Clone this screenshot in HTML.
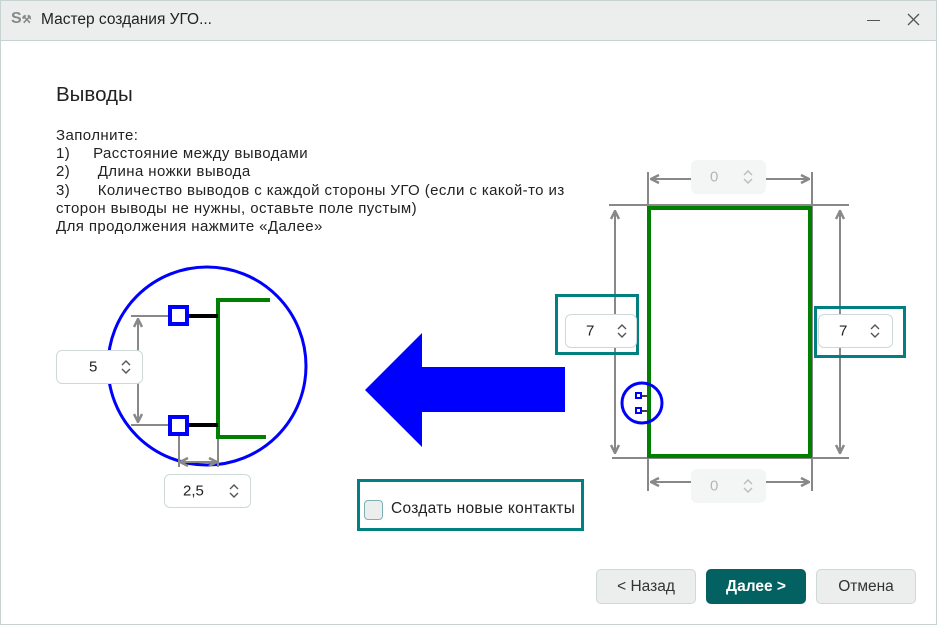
<!DOCTYPE html>
<html><head><meta charset="utf-8"><style>
body{margin:0;width:937px;height:625px;overflow:hidden;background:#fff;font-family:"Liberation Sans","Noto Sans CJK SC",sans-serif;}
.t{position:absolute;color:#222;white-space:nowrap}
.sp{position:absolute;background:#fff;border:1px solid #cfd8d8;border-radius:6px;box-sizing:border-box;font-size:15px;color:#222}
.sp .v{position:absolute;top:50%;transform:translateY(-50%)}
.sp svg{position:absolute;top:50%;margin-top:-8px}
.dis{background:#f4f6f6;border-color:#f4f6f6;color:#b0b8b8}
.btn{position:absolute;top:569px;width:100px;height:35px;border:1px solid #cfd8d8;border-radius:5px;background:#eceeee;box-sizing:border-box;font-size:15.5px;text-align:center;line-height:33px;color:#333}
</style></head><body>
<div style="position:absolute;left:0;top:0;width:937px;height:40px;background:#eceeee;border-bottom:1px solid #c8d2d2"></div>
<div style="position:absolute;left:0;top:0;width:935px;height:623px;border:1px solid #c8d2d2"></div>
<div class="t" style="left:11px;top:10px;font-size:16px;color:#888;font-weight:bold">S<span style="font-size:11px">⚒</span></div>
<div class="t" style="left:41px;top:11px;font-size:15.5px">Мастер создания УГО...</div>
<div style="position:absolute;left:867px;top:20px;width:13px;height:1px;background:#555"></div>
<svg style="position:absolute;left:907px;top:13px" width="13" height="13"><path d="M1,1 L12,12 M12,1 L1,12" stroke="#555" stroke-width="1.3"/></svg>
<div class="t" style="left:56px;top:83px;font-size:20.5px">Выводы</div>
<div class="t" style="left:56px;top:127px;font-size:15px;line-height:18.2px;letter-spacing:0.42px">Заполните:<br>1)&nbsp;&nbsp;&nbsp;&nbsp; Расстояние между выводами<br>2)&nbsp;&nbsp;&nbsp;&nbsp;&nbsp; Длина ножки вывода<br>3)&nbsp;&nbsp;&nbsp;&nbsp;&nbsp; Количество выводов с каждой стороны УГО (если с какой-то из<br>сторон выводы не нужны, оставьте поле пустым)<br>Для продолжения нажмите «Далее»</div>
<svg style="position:absolute;left:0;top:0" width="937" height="625">
<defs><marker id="a" viewBox="0 0 10 10" refX="8" refY="5" markerWidth="5" markerHeight="5" orient="auto-start-reverse"><path d="M1,1 L9,5 L1,9" fill="none" stroke="#888" stroke-width="2.5"/></marker></defs>
<circle cx="207" cy="366" r="99" fill="none" stroke="#0000ff" stroke-width="3"/>
<g stroke="#888" stroke-width="2" fill="none">
<line x1="131" y1="316" x2="168" y2="316"/><line x1="131" y1="425" x2="168" y2="425"/>
<line x1="138" y1="320" x2="138" y2="421" marker-start="url(#a)" marker-end="url(#a)"/>
<line x1="179" y1="427" x2="179" y2="467"/><line x1="218" y1="437" x2="218" y2="467"/>
<line x1="181" y1="462" x2="216" y2="462" marker-start="url(#a)" marker-end="url(#a)"/>
</g>
<path d="M270,300 H218 V437 H266" fill="none" stroke="#008000" stroke-width="4"/>
<line x1="189" y1="316" x2="218" y2="316" stroke="#000" stroke-width="4"/>
<line x1="189" y1="425" x2="218" y2="425" stroke="#000" stroke-width="4"/>
<rect x="170" y="307" width="17" height="17" fill="#fff" stroke="#0000ff" stroke-width="4"/>
<rect x="170" y="417" width="17" height="17" fill="#fff" stroke="#0000ff" stroke-width="4"/>
<polygon points="365,390 422,333 422,367 565,367 565,412 422,412 422,447" fill="#0000ff"/>
<g stroke="#888" stroke-width="2" fill="none">
<line x1="609" y1="205" x2="849" y2="205"/><line x1="612" y1="458" x2="849" y2="458"/>
<line x1="648" y1="172" x2="648" y2="491"/><line x1="812" y1="172" x2="812" y2="491"/>
<line x1="615" y1="212" x2="615" y2="452" marker-start="url(#a)" marker-end="url(#a)"/>
<line x1="840" y1="212" x2="840" y2="452" marker-start="url(#a)" marker-end="url(#a)"/>
<line x1="652" y1="179" x2="808" y2="179" marker-start="url(#a)" marker-end="url(#a)"/>
<line x1="652" y1="482" x2="808" y2="482" marker-start="url(#a)" marker-end="url(#a)"/>
</g>
<rect x="649" y="208" width="161" height="248" fill="none" stroke="#008000" stroke-width="4"/>
<circle cx="642" cy="403" r="20" fill="none" stroke="#0000ff" stroke-width="3"/>
<line x1="641" y1="396" x2="647" y2="396" stroke="#000" stroke-width="1.5"/>
<line x1="641" y1="411" x2="647" y2="411" stroke="#000" stroke-width="1.5"/>
<rect x="636" y="393" width="5" height="5" fill="#fff" stroke="#0000ff" stroke-width="2"/>
<rect x="636" y="408" width="5" height="5" fill="#fff" stroke="#0000ff" stroke-width="2"/>
<rect x="556.5" y="295.5" width="81" height="58" fill="none" stroke="#008080" stroke-width="3"/>
<rect x="815.5" y="307.5" width="89" height="49" fill="none" stroke="#008080" stroke-width="3"/>
<rect x="358.5" y="480.5" width="224" height="49" fill="none" stroke="#008080" stroke-width="3"/>
</svg>
<div class="sp" style="left:56px;top:350px;width:87px;height:34px"><span class="v" style="left:32px">5</span><svg style="left:63px" width="12" height="16"><path d="M2,6 L6,2 L10,6 M2,10 L6,14 L10,10" fill="none" stroke="#555" stroke-width="1.4"/></svg></div>
<div class="sp" style="left:164px;top:474px;width:87px;height:34px"><span class="v" style="left:18px">2,5</span><svg style="left:63px" width="12" height="16"><path d="M2,6 L6,2 L10,6 M2,10 L6,14 L10,10" fill="none" stroke="#555" stroke-width="1.4"/></svg></div>
<div class="sp dis" style="left:691px;top:160px;width:75px;height:34px"><span class="v" style="left:18px">0</span><svg style="left:50px" width="12" height="16"><path d="M2,6 L6,2 L10,6 M2,10 L6,14 L10,10" fill="none" stroke="#bbb" stroke-width="1.4"/></svg></div>
<div class="sp dis" style="left:691px;top:469px;width:75px;height:34px"><span class="v" style="left:18px">0</span><svg style="left:50px" width="12" height="16"><path d="M2,6 L6,2 L10,6 M2,10 L6,14 L10,10" fill="none" stroke="#bbb" stroke-width="1.4"/></svg></div>
<div class="sp" style="left:565px;top:314px;width:72px;height:34px"><span class="v" style="left:20px">7</span><svg style="left:50px" width="12" height="16"><path d="M2,6 L6,2 L10,6 M2,10 L6,14 L10,10" fill="none" stroke="#555" stroke-width="1.4"/></svg></div>
<div class="sp" style="left:818px;top:314px;width:75px;height:34px"><span class="v" style="left:20px">7</span><svg style="left:50px" width="12" height="16"><path d="M2,6 L6,2 L10,6 M2,10 L6,14 L10,10" fill="none" stroke="#555" stroke-width="1.4"/></svg></div>
<div style="position:absolute;left:364px;top:500px;width:17px;height:18px;border:1px solid #7fb0b0;border-radius:4px;background:#eceeee"></div>
<div class="t" style="left:391px;top:500px;font-size:15.5px;letter-spacing:0.3px">Создать новые контакты</div>
<div class="btn" style="left:596px">&lt; Назад</div>
<div class="btn" style="left:706px;background:#046161;border-color:#046161;color:#fff;font-weight:bold">Далее &gt;</div>
<div class="btn" style="left:816px">Отмена</div>
</body></html>
